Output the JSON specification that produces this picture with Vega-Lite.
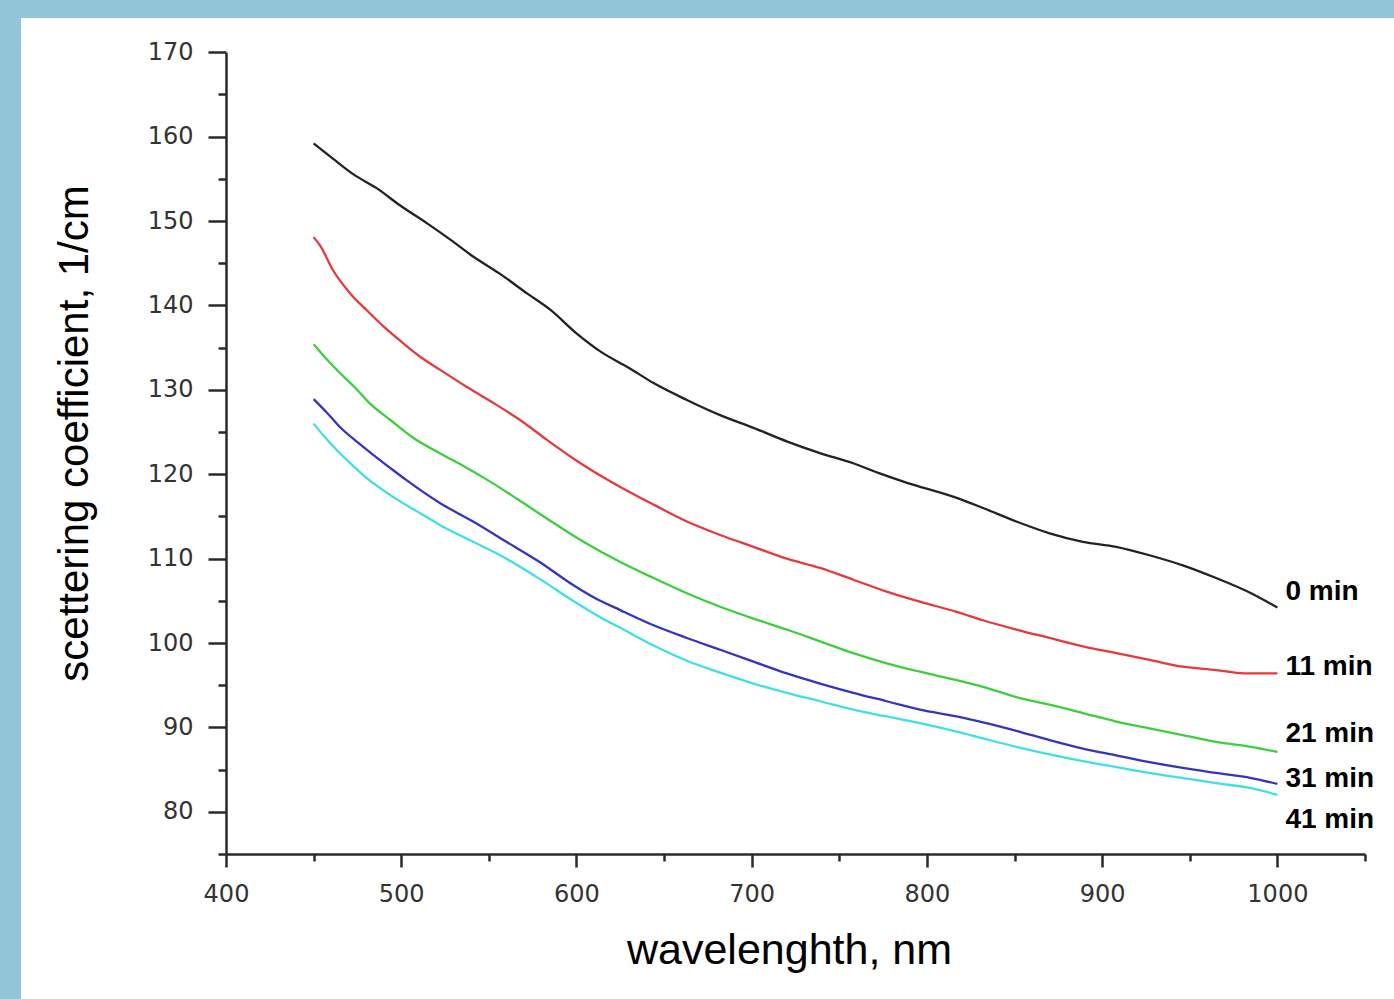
{
  "$schema": "https://vega.github.io/schema/vega-lite/v6.json",
  "width": 1373,
  "height": 981,
  "autosize": "none",
  "padding": {"left": 21, "top": 18, "right": 0, "bottom": 0},
  "background": "#93c5d8",
  "config": {"view": {"fill": "white", "stroke": null}},
  "datasets": {
    "curves": [
      {"t":"0 min","w":450,"v":159.2},{"t":"0 min","w":461,"v":157.4},{"t":"0 min","w":473,"v":155.5},{"t":"0 min","w":486,"v":153.9},{"t":"0 min","w":499,"v":151.9},{"t":"0 min","w":515,"v":149.7},{"t":"0 min","w":528,"v":147.8},{"t":"0 min","w":541,"v":145.8},{"t":"0 min","w":556,"v":143.8},{"t":"0 min","w":572,"v":141.4},{"t":"0 min","w":585,"v":139.5},{"t":"0 min","w":600,"v":136.7},{"t":"0 min","w":614,"v":134.5},{"t":"0 min","w":630,"v":132.6},{"t":"0 min","w":644,"v":130.8},{"t":"0 min","w":663,"v":128.8},{"t":"0 min","w":682,"v":127.0},{"t":"0 min","w":701,"v":125.5},{"t":"0 min","w":720,"v":123.9},{"t":"0 min","w":739,"v":122.5},{"t":"0 min","w":758,"v":121.3},{"t":"0 min","w":773,"v":120.1},{"t":"0 min","w":787,"v":119.1},{"t":"0 min","w":817,"v":117.2},{"t":"0 min","w":832,"v":116.0},{"t":"0 min","w":851,"v":114.4},{"t":"0 min","w":870,"v":113.0},{"t":"0 min","w":889,"v":112.0},{"t":"0 min","w":908,"v":111.4},{"t":"0 min","w":927,"v":110.4},{"t":"0 min","w":946,"v":109.2},{"t":"0 min","w":965,"v":107.7},{"t":"0 min","w":985,"v":105.9},{"t":"0 min","w":1000,"v":104.2},
      {"t":"11 min","w":450,"v":148.1},{"t":"11 min","w":454,"v":147.0},{"t":"11 min","w":461,"v":144.2},{"t":"11 min","w":471,"v":141.4},{"t":"11 min","w":480,"v":139.5},{"t":"11 min","w":490,"v":137.5},{"t":"11 min","w":499,"v":135.9},{"t":"11 min","w":511,"v":133.9},{"t":"11 min","w":522,"v":132.4},{"t":"11 min","w":537,"v":130.4},{"t":"11 min","w":553,"v":128.4},{"t":"11 min","w":568,"v":126.4},{"t":"11 min","w":583,"v":124.1},{"t":"11 min","w":598,"v":121.9},{"t":"11 min","w":610,"v":120.3},{"t":"11 min","w":625,"v":118.5},{"t":"11 min","w":644,"v":116.4},{"t":"11 min","w":663,"v":114.4},{"t":"11 min","w":682,"v":112.8},{"t":"11 min","w":701,"v":111.4},{"t":"11 min","w":720,"v":110.0},{"t":"11 min","w":739,"v":108.9},{"t":"11 min","w":758,"v":107.5},{"t":"11 min","w":777,"v":106.1},{"t":"11 min","w":796,"v":104.9},{"t":"11 min","w":817,"v":103.7},{"t":"11 min","w":832,"v":102.7},{"t":"11 min","w":851,"v":101.6},{"t":"11 min","w":870,"v":100.6},{"t":"11 min","w":889,"v":99.6},{"t":"11 min","w":908,"v":98.8},{"t":"11 min","w":927,"v":98.0},{"t":"11 min","w":946,"v":97.2},{"t":"11 min","w":965,"v":96.8},{"t":"11 min","w":981,"v":96.4},{"t":"11 min","w":1000,"v":96.4},
      {"t":"21 min","w":450,"v":135.4},{"t":"21 min","w":458,"v":133.5},{"t":"21 min","w":465,"v":132.0},{"t":"21 min","w":473,"v":130.4},{"t":"21 min","w":482,"v":128.4},{"t":"21 min","w":494,"v":126.4},{"t":"21 min","w":507,"v":124.3},{"t":"21 min","w":522,"v":122.5},{"t":"21 min","w":537,"v":120.8},{"t":"21 min","w":547,"v":119.6},{"t":"21 min","w":566,"v":117.1},{"t":"21 min","w":585,"v":114.5},{"t":"21 min","w":604,"v":112.0},{"t":"21 min","w":625,"v":109.6},{"t":"21 min","w":644,"v":107.7},{"t":"21 min","w":663,"v":105.9},{"t":"21 min","w":682,"v":104.3},{"t":"21 min","w":701,"v":102.9},{"t":"21 min","w":720,"v":101.6},{"t":"21 min","w":739,"v":100.2},{"t":"21 min","w":758,"v":98.8},{"t":"21 min","w":777,"v":97.6},{"t":"21 min","w":796,"v":96.6},{"t":"21 min","w":817,"v":95.6},{"t":"21 min","w":832,"v":94.8},{"t":"21 min","w":851,"v":93.6},{"t":"21 min","w":870,"v":92.7},{"t":"21 min","w":889,"v":91.7},{"t":"21 min","w":908,"v":90.7},{"t":"21 min","w":927,"v":89.9},{"t":"21 min","w":946,"v":89.1},{"t":"21 min","w":965,"v":88.3},{"t":"21 min","w":985,"v":87.7},{"t":"21 min","w":1000,"v":87.1},
      {"t":"31 min","w":450,"v":128.9},{"t":"31 min","w":458,"v":127.2},{"t":"31 min","w":465,"v":125.6},{"t":"31 min","w":475,"v":123.8},{"t":"31 min","w":484,"v":122.3},{"t":"31 min","w":494,"v":120.7},{"t":"31 min","w":503,"v":119.3},{"t":"31 min","w":522,"v":116.6},{"t":"31 min","w":541,"v":114.4},{"t":"31 min","w":560,"v":112.0},{"t":"31 min","w":579,"v":109.6},{"t":"31 min","w":595,"v":107.3},{"t":"31 min","w":610,"v":105.4},{"t":"31 min","w":625,"v":103.9},{"t":"31 min","w":644,"v":102.1},{"t":"31 min","w":663,"v":100.6},{"t":"31 min","w":682,"v":99.2},{"t":"31 min","w":701,"v":97.8},{"t":"31 min","w":720,"v":96.4},{"t":"31 min","w":739,"v":95.2},{"t":"31 min","w":758,"v":94.1},{"t":"31 min","w":777,"v":93.1},{"t":"31 min","w":796,"v":92.1},{"t":"31 min","w":817,"v":91.3},{"t":"31 min","w":832,"v":90.6},{"t":"31 min","w":851,"v":89.6},{"t":"31 min","w":870,"v":88.5},{"t":"31 min","w":889,"v":87.5},{"t":"31 min","w":908,"v":86.7},{"t":"31 min","w":927,"v":85.9},{"t":"31 min","w":946,"v":85.2},{"t":"31 min","w":965,"v":84.6},{"t":"31 min","w":985,"v":84.0},{"t":"31 min","w":1000,"v":83.3},
      {"t":"41 min","w":450,"v":126.0},{"t":"41 min","w":456,"v":124.5},{"t":"41 min","w":463,"v":122.9},{"t":"41 min","w":471,"v":121.3},{"t":"41 min","w":480,"v":119.6},{"t":"41 min","w":494,"v":117.5},{"t":"41 min","w":509,"v":115.6},{"t":"41 min","w":522,"v":114.0},{"t":"41 min","w":541,"v":112.0},{"t":"41 min","w":560,"v":110.0},{"t":"41 min","w":579,"v":107.6},{"t":"41 min","w":598,"v":105.0},{"t":"41 min","w":614,"v":103.0},{"t":"41 min","w":625,"v":101.8},{"t":"41 min","w":644,"v":99.7},{"t":"41 min","w":663,"v":97.9},{"t":"41 min","w":682,"v":96.5},{"t":"41 min","w":701,"v":95.2},{"t":"41 min","w":720,"v":94.1},{"t":"41 min","w":739,"v":93.1},{"t":"41 min","w":758,"v":92.1},{"t":"41 min","w":777,"v":91.3},{"t":"41 min","w":796,"v":90.5},{"t":"41 min","w":817,"v":89.5},{"t":"41 min","w":832,"v":88.7},{"t":"41 min","w":851,"v":87.7},{"t":"41 min","w":870,"v":86.8},{"t":"41 min","w":889,"v":86.0},{"t":"41 min","w":908,"v":85.3},{"t":"41 min","w":927,"v":84.6},{"t":"41 min","w":946,"v":84.0},{"t":"41 min","w":965,"v":83.4},{"t":"41 min","w":985,"v":82.8},{"t":"41 min","w":1000,"v":82.0}
    ],
    "labels": [
      {"t":"0 min","w":1000,"v":106.1},
      {"t":"11 min","w":1000,"v":97.2},
      {"t":"21 min","w":1000,"v":89.2},
      {"t":"31 min","w":1000,"v":83.9},
      {"t":"41 min","w":1000,"v":79.0}
    ]
  },
  "layer": [
    {
      "data": {"name": "curves"},
      "mark": {"type": "line", "strokeWidth": 2.3, "interpolate": "monotone"},
      "encoding": {
        "x": {
          "field": "w", "type": "quantitative",
          "scale": {"domain": [400, 1050], "range": [205, 1344], "nice": false, "zero": false},
          "axis": {
            "title": "wavelenghth, nm",
            "values": [400,450,500,550,600,650,700,750,800,850,900,950,1000,1050],
            "format": "d",
            "labelExpr": "datum.value % 100 === 0 ? datum.label : ''",
            "tickSize": {"condition": {"test": "datum.value % 100 === 0", "value": 13}, "value": 7},
            "offset": -145,
            "grid": false,
            "domainColor": "#2a2a2a", "domainWidth": 2.5,
            "tickColor": "#2a2a2a", "tickWidth": 2.5,
            "labelFont": "DejaVu Sans", "labelFontSize": 24, "labelColor": "#333333",
            "labelPadding": 15, "labelFlush": false, "labelOverlap": false,
            "titleFont": "Liberation Sans", "titleFontSize": 43, "titleFontWeight": "normal", "titleColor": "#000000",
            "titleX": 768, "titleY": 96, "titleBaseline": "middle", "titleAlign": "center", "titleAnchor": null
          }
        },
        "y": {
          "field": "v", "type": "quantitative",
          "scale": {"domain": [75, 170], "range": [836, 34.3], "nice": false, "zero": false},
          "axis": {
            "title": "scettering coefficient, 1/cm",
            "values": [75,80,85,90,95,100,105,110,115,120,125,130,135,140,145,150,155,160,165,170],
            "format": "d",
            "labelExpr": "datum.value % 10 === 0 ? datum.label : ''",
            "tickSize": {"condition": {"test": "datum.value % 10 === 0", "value": 18}, "value": 8},
            "offset": -205,
            "grid": false,
            "domainColor": "#2a2a2a", "domainWidth": 2.5,
            "tickColor": "#2a2a2a", "tickWidth": 2.5,
            "labelFont": "DejaVu Sans", "labelFontSize": 24, "labelColor": "#333333",
            "labelPadding": 15, "labelFlush": false, "labelOverlap": false,
            "titleFont": "Liberation Sans", "titleFontSize": 42, "titleFontWeight": "normal", "titleColor": "#000000",
            "titleX": -151.7, "titleY": 415, "titleBaseline": "middle", "titleAlign": "center", "titleAngle": -90
          }
        },
        "color": {
          "field": "t", "type": "nominal",
          "scale": {"domain": ["0 min","11 min","21 min","31 min","41 min"], "range": ["#222222","#e8383c","#3ccf3c","#3434c4","#3edfe6"]},
          "legend": null
        }
      }
    },
    {
      "data": {"name": "labels"},
      "mark": {"type": "text", "align": "left", "baseline": "middle", "dx": 8, "font": "Liberation Sans", "fontSize": 28, "fontWeight": "bold", "color": "#000000"},
      "encoding": {
        "x": {"field": "w", "type": "quantitative"},
        "y": {"field": "v", "type": "quantitative"},
        "text": {"field": "t"}
      }
    }
  ]
}
